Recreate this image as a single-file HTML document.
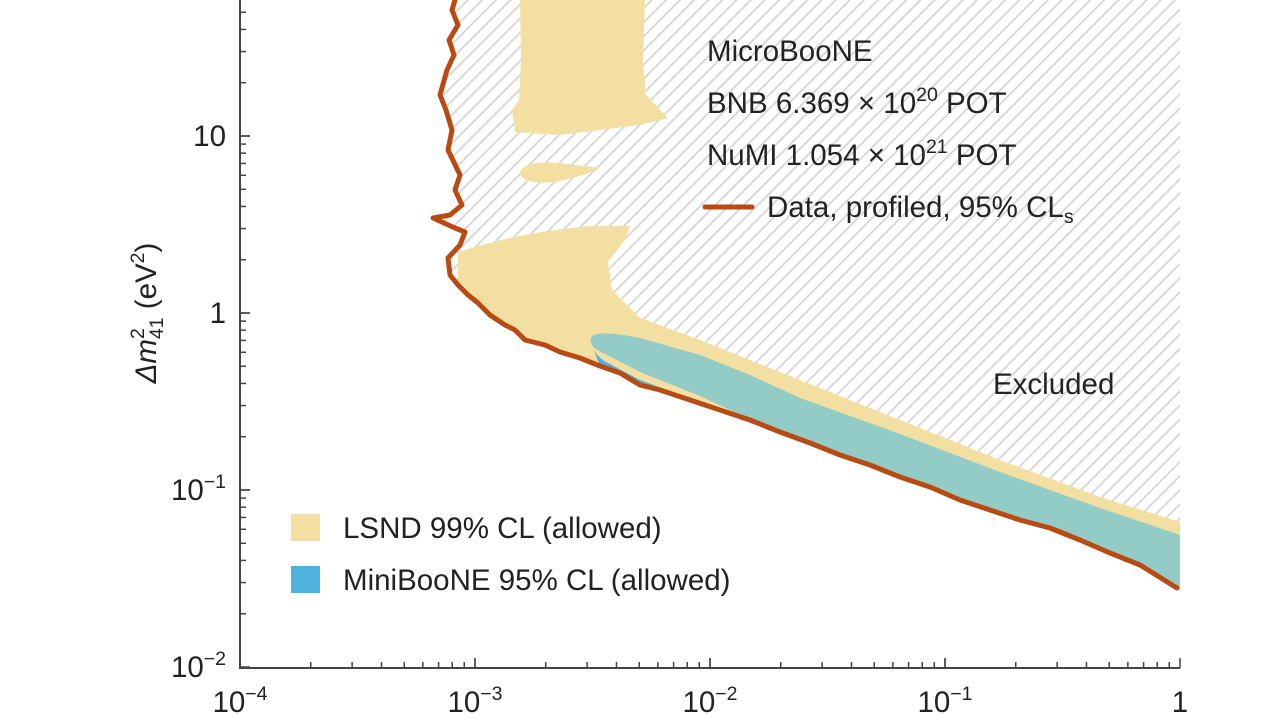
<!DOCTYPE html>
<html><head><meta charset="utf-8"><style>
html,body{margin:0;padding:0;background:#fff;}
svg{display:block;font-family:"Liberation Sans",Arial,sans-serif;}
</style></head><body>
<svg id="s" width="1280" height="720" viewBox="0 0 1280 720" xmlns="http://www.w3.org/2000/svg">
<defs>
<pattern id="h" patternUnits="userSpaceOnUse" width="10" height="10" patternTransform="rotate(45)">
<rect width="10" height="10" fill="#fff"/>
<line x1="0" y1="0" x2="0" y2="10" stroke="#d2d5d8" stroke-width="3.5"/>
</pattern>
<clipPath id="pc"><rect x="240" y="0" width="940" height="668"/></clipPath>
</defs>
<g clip-path="url(#pc)">
<path d="M455,0 L452,10 L458,25 L449,40 L454,55 L447,70 L440,95 L446,110 L452,130 L448,150 L460,175 L455,190 L462,205 L450,215 L433,218 L455,228 L465,232 L460,245 L448,258 L450,275 L458,285 L468,295 L478,303 L490,315 L505,325 L515,330 L525,340 L545,345 L560,352 L580,358 L600,366 L620,373 L640,385 L660,390 L690,400 L720,410 L750,420 L780,432 L810,443 L840,455 L870,465 L900,477 L930,487 L960,500 L990,510 L1020,520 L1050,528 L1080,540 L1110,553 L1140,565 L1180,588 L1180,0 Z" fill="url(#h)"/>
<path d="M520,0 L645,0 L643,60 L646,95 L668,118 L640,125 L560,135 L515,132 L512,110 L519,100 L521,60 Z" fill="#f4dfa3"/>
<path d="M520,172 Q525,160 560,163 L600,168 Q585,176 555,182 Q520,185 520,172 Z" fill="#f4dfa3"/>
<path d="M458,252 Q520,232 590,226 L630,226 L625,240 L608,262 L612,290 L640,318 L700,340 L800,380 L900,420 L1000,460 L1100,497 L1180,522 L1180,590 L1140,567 L1110,555 L1080,542 L1050,530 L1020,522 L990,512 L960,502 L930,489 L900,479 L870,467 L840,457 L810,445 L780,434 L750,422 L720,412 L690,402 L660,392 L640,387 L620,375 L600,368 L580,360 L560,354 L545,347 L525,342 L515,332 L505,327 L490,317 L478,305 L468,297 L458,287 Z" fill="#f4dfa3"/>
<path d="M592,345 Q596,358 610,364 L640,380 L700,402 L760,428 L720,410 L690,400 L660,390 L640,385 L620,373 L600,366 Z" fill="#4fb1de"/>
<path d="M592,336 Q600,330 640,338 L700,355 L750,375 L800,398 L900,434 L1000,472 L1100,508 L1180,535 L1180,588 L1140,565 L1110,553 L1080,540 L1050,528 L1020,520 L990,510 L960,500 L930,487 L900,477 L870,465 L840,455 L810,443 L780,432 L760,424 L700,396 L640,372 L605,354 Q586,346 592,336 Z" fill="#93ccc6"/>
<path d="M455,0 L452,10 L458,25 L449,40 L454,55 L447,70 L440,95 L446,110 L452,130 L448,150 L460,175 L455,190 L462,205 L450,215 L433,218 L455,228 L465,232 L460,245 L448,258 L450,275 L458,285 L468,295 L478,303 L490,315 L505,325 L515,330 L525,340 L545,345 L560,352 L580,358 L600,366 L620,373 L640,385 L660,390 L690,400 L720,410 L750,420 L780,432 L810,443 L840,455 L870,465 L900,477 L930,487 L960,500 L990,510 L1020,520 L1050,528 L1080,540 L1110,553 L1140,565 L1177,588" fill="none" stroke="#b94a12" stroke-width="5" stroke-linejoin="round" stroke-linecap="round"/>
</g>
<path d="M240,0 L240,668 L1180,668" stroke="#444" stroke-width="2" fill="none"/>
<g font-size="29.5" fill="#222">
<text x="707" y="61">MicroBooNE</text>
<text x="707" y="113">BNB 6.369 × 10<tspan dy="-12" font-size="19.5">20</tspan><tspan dy="12"> POT</tspan></text>
<text x="707" y="165">NuMI 1.054 × 10<tspan dy="-12" font-size="19.5">21</tspan><tspan dy="12"> POT</tspan></text>
<text x="767" y="217">Data, profiled, 95% CL<tspan dy="6" font-size="19.5">s</tspan></text>
<text x="993" y="394">Excluded</text>
<text x="343" y="538">LSND 99% CL (allowed)</text>
<text x="343" y="590">MiniBooNE 95% CL (allowed)</text>
<text x="226" y="146" text-anchor="end">10</text>
<text x="226" y="323" text-anchor="end">1</text>
<text x="226" y="500" text-anchor="end">10<tspan dy="-12" font-size="19.5">−1</tspan></text>
<text x="226" y="677" text-anchor="end">10<tspan dy="-12" font-size="19.5">−2</tspan></text>
<text x="240" y="712" text-anchor="middle">10<tspan dy="-12" font-size="19.5">−4</tspan></text>
<text x="475" y="712" text-anchor="middle">10<tspan dy="-12" font-size="19.5">−3</tspan></text>
<text x="710" y="712" text-anchor="middle">10<tspan dy="-12" font-size="19.5">−2</tspan></text>
<text x="945" y="712" text-anchor="middle">10<tspan dy="-12" font-size="19.5">−1</tspan></text>
<text x="1180" y="712" text-anchor="middle">1</text>
<text transform="translate(156,313) rotate(-90)" text-anchor="middle"><tspan font-style="italic">Δm</tspan><tspan dy="-12" font-size="19.5">2</tspan><tspan dx="-11" dy="19" font-size="19.5">41</tspan><tspan dy="-7"> (eV</tspan><tspan dy="-12" font-size="19.5">2</tspan><tspan dy="12">)</tspan></text>
</g>
<line x1="705" y1="207" x2="752" y2="207" stroke="#b94a12" stroke-width="5" stroke-linecap="round"/>
<rect x="291" y="514" width="29" height="27" fill="#f4dfa3"/>
<rect x="291" y="566" width="29" height="27" fill="#4fb1de"/>
<g id="ticks" stroke="#444" stroke-width="1.5"></g>
</svg>
<script>
var g=document.getElementById('ticks'),s='';
for(var d=-4;d<0;d++){for(var k=1;k<=10;k++){var x=240+235*(d+4+Math.log10(k));var L=(k==1||k==10)?10:6;s+='<line x1="'+x+'" y1="668" x2="'+x+'" y2="'+(668-L)+'"/>';}}
for(var d=-2;d<2;d++){for(var k=1;k<=10;k++){var y=313-177*(d+Math.log10(k));if(y<0)continue;var L=(k==1||k==10)?10:6;s+='<line x1="240" y1="'+y+'" x2="'+(240+L)+'" y2="'+y+'"/>';}}
g.innerHTML=s;
</script>
</body></html>
